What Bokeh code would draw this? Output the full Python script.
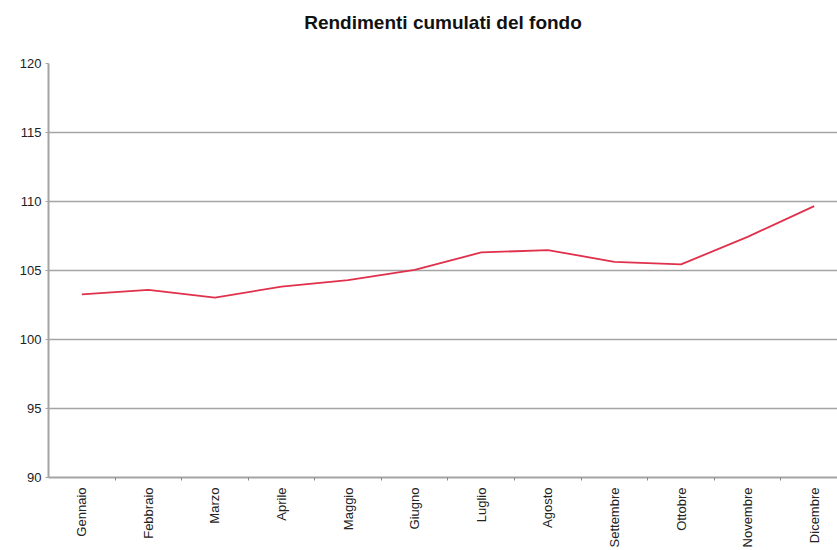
import math
from bokeh.plotting import figure
from bokeh.models import Range1d, FixedTicker, Title
from bokeh.embed import file_html
from bokeh.resources import INLINE

months = ["Gennaio", "Febbraio", "Marzo", "Aprile", "Maggio", "Giugno",
          "Luglio", "Agosto", "Settembre", "Ottobre", "Novembre", "Dicembre"]
values = [103.27, 103.59, 103.03, 103.83, 104.3, 105.05,
          106.31, 106.48, 105.63, 105.44, 107.44, 109.66]
y_ticks = [90, 95, 100, 105, 110, 115, 120]
title_text = "Rendimenti cumulati del fondo"

x_pos = [i + 0.5 for i in range(len(months))]
boundaries = list(range(1, len(months)))

GRID = "#a4a4a4"
FONT = "Liberation Sans"

p = figure(width=837, height=550, output_backend="svg", toolbar_location=None,
           x_range=Range1d(0, 11.85), y_range=Range1d(90, 120),
           min_border_left=48, min_border_right=0,
           min_border_bottom=72, min_border_top=63)

# spacer panel between the title and the plot frame
p.add_layout(Title(text=" ", text_font_size="1px", standoff=17.7), "above")

p.title.text = title_text
p.title.align = "center"
p.title.text_font = FONT
p.title.text_font_size = "19px"
p.title.text_font_style = "bold"
p.title.text_color = "#111111"
p.title.offset = 10.5
p.title.standoff = 19

p.outline_line_color = None
p.background_fill_color = "white"
p.border_fill_color = "white"

p.xgrid.visible = False
p.ygrid.ticker = FixedTicker(ticks=y_ticks)
p.ygrid.grid_line_color = GRID
p.ygrid.grid_line_width = 1.3

# y axis
ya = p.yaxis[0]
ya.ticker = FixedTicker(ticks=y_ticks)
ya.axis_line_color = GRID
ya.axis_line_width = 2
ya.major_tick_line_color = GRID
ya.major_tick_out = 3
ya.major_tick_in = 0
ya.minor_tick_line_color = None
ya.major_label_text_font = FONT
ya.major_label_text_font_size = "13px"
ya.major_label_text_color = "#222222"
ya.major_label_standoff = 4

# x axis
xa = p.xaxis[0]
xa.ticker = FixedTicker(ticks=x_pos, minor_ticks=boundaries)
xa.major_label_overrides = {x: m for x, m in zip(x_pos, months)}
xa.major_label_orientation = math.pi / 2
xa.axis_line_color = GRID
xa.axis_line_width = 2
xa.major_tick_line_color = None
xa.minor_tick_line_color = "#888888"
xa.minor_tick_out = 3
xa.minor_tick_in = 0
xa.major_label_text_font = FONT
xa.major_label_text_font_size = "13px"
xa.major_label_text_color = "#222222"
xa.major_label_standoff = 4

p.line(x_pos, values, line_color="#e0304c", line_width=1.8)

open("out.html", "w").write(file_html(p, INLINE))
